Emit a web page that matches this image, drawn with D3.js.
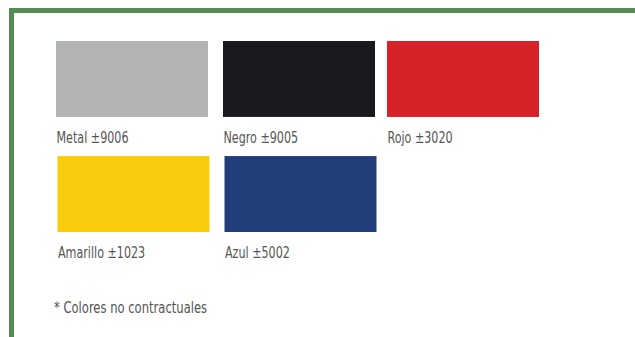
<!DOCTYPE html>
<html><head><meta charset="utf-8">
<script src="https://cdn.jsdelivr.net/npm/d3@7/dist/d3.min.js"></script>
<style>html,body{margin:0;padding:0;background:#fff;}svg{display:block;}</style>
</head><body>
<script>
const names = ["Metal", "Negro", "Rojo", "Amarillo", "Azul"];
const codes = ["±9006", "±9005", "±3020", "±1023", "±5002"];
const colors = ["#b2b3b4", "#1a191d", "#d62128", "#f9cc0d", "#213e7b"];
const note = "* Colores no contractuales";

const W = 635, H = 337;
const svg = d3.select("body").append("svg").attr("width", W).attr("height", H);

// green frame (top + left)
const frame = "#558b57";
svg.append("rect").attr("x", 9).attr("y", 8).attr("width", W - 9).attr("height", 5).attr("fill", frame);
svg.append("rect").attr("x", 9).attr("y", 8).attr("width", 5).attr("height", H - 8).attr("fill", frame);

const cols = 3;
const data = names.map((n, i) => ({name: n, code: codes[i], color: colors[i], col: i % cols, row: Math.floor(i / cols)}));

const x = d3.scaleBand().domain(d3.range(cols)).range([56, 539]).paddingInner(0.0816).paddingOuter(0);
const y = d3.scaleBand().domain([0, 1]).range([41, 232]).paddingInner(0.34).paddingOuter(0);
const rowShift = [0, 1.5];

const font = "'DejaVu Sans Condensed','DejaVu Sans',sans-serif";
const sx = 0.8;

const g = svg.selectAll("g.sw").data(data).join("g").attr("class", "sw")
  .attr("transform", d => `translate(${x(d.col) + rowShift[d.row] + (d.col === 1 ? 1.5 : 0)},${y(d.row)})`);

g.append("rect").attr("width", x.bandwidth()).attr("height", y.bandwidth()).attr("fill", d => d.color);

g.append("text").attr("transform", `translate(0.5,102) scale(${sx},1)`)
  .attr("font-family", font).attr("font-size", 15.5).attr("fill", "#555")
  .text(d => d.name + " " + d.code);

svg.append("text").attr("transform", `translate(54,313) scale(0.83,1)`)
  .attr("font-family", font).attr("font-size", 15.5).attr("fill", "#555")
  .text(note);
</script>
</body></html>
